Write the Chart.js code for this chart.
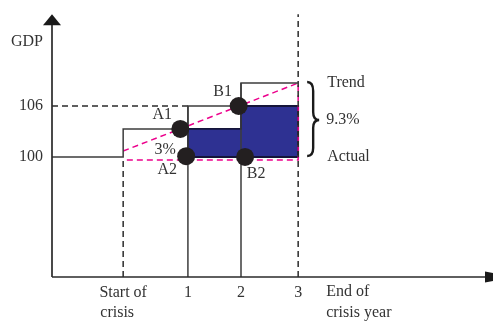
<!DOCTYPE html>
<html>
<head>
<meta charset="utf-8">
<script src="https://cdn.jsdelivr.net/npm/chart.js@4.4.1/dist/chart.umd.min.js"></script>
<style>
    html, body { margin: 0; padding: 0; background: #fff; }
    #wrap { width: 493px; height: 321px; }
</style>
</head>
<body>
<div id="wrap"><canvas id="crisis-chart"></canvas></div>
<script>
// years after the start of the crisis, as placed on the figure
const yearPos = [0, 1.11, 2.02, 3];
const yearLabels = [['Start of', 'crisis   '], '1', '2', '3'];
const endLabel = ['End of', 'crisis year'];

// GDP: pre-crisis / actual level and the trend level reached at each year
const actualGdp = 100;
const trendGdp = [103.3, 106, 108.7];
const gdpTicks = [100, 106];
const gdpTitle = 'GDP';

// the four marked points
const dotNames = ['A1', 'A2', 'B1', 'B2'];
const dotYears = [0.98, 1.08, 1.98, 2.09];
const dotGdp = [103.3, 100.1, 106, 100];

// pink dashed guides: trend line and actual line
const trendLineGdp = [100.7, 108.7];
const actualLineGdp = 99.65;

const gapLabels = ['3%', '9.3%'];
const sideLabels = ['Trend', 'Actual'];

// axis range
const xMin = -1.22, xMax = 6.34;
const yMin = 85.88, yMax = 118.47;
const yArrowTop = 116.8;

const ink = '#333333';
const lineInk = '#3d3d3d';
const pink = '#ec008c';
const navy = '#2e3192';
const font = "'Liberation Serif', 'DejaVu Serif', serif";

Chart.defaults.font.family = font;
Chart.defaults.font.size = 16;
Chart.defaults.color = ink;

function pts(xs, ys) {
    return xs.map((x, i) => ({ x: x, y: ys[i] }));
}

const gap = (x) => ({ x: x, y: null });

const stepData = [{ x: xMin, y: actualGdp }]
    .concat(pts(yearPos.slice(0, 3), trendGdp))
    .concat([{ x: yearPos[3], y: trendGdp[2] }]);

const yearLines = [
    { x: yearPos[1], y: yMin }, { x: yearPos[1], y: trendGdp[1] }, gap(yearPos[1]),
    { x: yearPos[2], y: yMin }, { x: yearPos[2], y: trendGdp[2] }
];

const blackDash = [
    { x: yearPos[0], y: yMin }, { x: yearPos[0], y: actualGdp }, gap(yearPos[0]),
    { x: yearPos[3], y: yMin }, { x: yearPos[3], y: yArrowTop }, gap(yearPos[3]),
    { x: xMin, y: gdpTicks[1] }, { x: yearPos[1], y: gdpTicks[1] }
];

const pinkDash = [
    { x: yearPos[0], y: trendLineGdp[0] }, { x: yearPos[3], y: trendLineGdp[1] },
    { x: yearPos[3], y: actualLineGdp }, { x: yearPos[0], y: actualLineGdp }
];

const lossArea = [
    { x: yearPos[1], y: actualGdp }, { x: yearPos[1], y: trendGdp[0] },
    { x: yearPos[2], y: trendGdp[0] }, { x: yearPos[2], y: trendGdp[1] },
    { x: yearPos[3], y: trendGdp[1] }, { x: yearPos[3], y: actualGdp },
    { x: yearPos[1], y: actualGdp }
];

const annotations = {
    id: 'annotations',
    afterDatasetsDraw(chart) {
        const ctx = chart.ctx;
        const x = chart.scales.x;
        const y = chart.scales.y;
        const area = chart.chartArea;
        const left = area.left, bottom = area.bottom;

        ctx.save();
        // axes with arrow heads
        ctx.strokeStyle = '#2b2b2b';
        ctx.fillStyle = '#1a1a1a';
        ctx.lineWidth = 1.7;
        const top = y.getPixelForValue(yArrowTop);
        ctx.beginPath();
        ctx.moveTo(left, bottom);
        ctx.lineTo(left, top + 8);
        ctx.moveTo(left, bottom);
        ctx.lineTo(area.right - 6, bottom);
        ctx.stroke();
        ctx.beginPath();
        ctx.moveTo(left, top);
        ctx.lineTo(left + 9, top + 11);
        ctx.lineTo(left - 9, top + 11);
        ctx.closePath();
        ctx.fill();
        ctx.beginPath();
        ctx.moveTo(area.right - 8, bottom - 5.5);
        ctx.lineTo(area.right + 22, bottom);
        ctx.lineTo(area.right - 8, bottom + 5.5);
        ctx.closePath();
        ctx.fill();

        ctx.fillStyle = ink;
        ctx.font = '16px ' + font;

        // y axis title
        ctx.textAlign = 'right';
        ctx.textBaseline = 'middle';
        ctx.fillText(gdpTitle, left - 9, 42);

        // point labels
        const offsets = [[-18, -14], [-19, 14], [-16, -14], [11, 17]];
        ctx.textAlign = 'center';
        dotNames.forEach((name, i) => {
            const px = x.getPixelForValue(dotYears[i]);
            const py = y.getPixelForValue(dotGdp[i]);
            ctx.fillText(name, px + offsets[i][0], py + offsets[i][1]);
        });
        ctx.fillText(gapLabels[0], x.getPixelForValue(dotYears[1]) - 21, y.getPixelForValue(dotGdp[1]) - 6);

        // brace and right labels
        const xe = x.getPixelForValue(yearPos[3]);
        const yt = y.getPixelForValue(trendGdp[2]);
        const ya = y.getPixelForValue(actualGdp);
        const ym = (yt + ya) / 2;
        const x0 = xe + 9, xm = xe + 15, tip = xe + 21;
        ctx.strokeStyle = '#1a1a1a';
        ctx.lineWidth = 2.4;
        ctx.beginPath();
        ctx.moveTo(x0, yt - 1);
        ctx.quadraticCurveTo(xm, yt - 1, xm, yt + 8);
        ctx.lineTo(xm, ym - 8);
        ctx.quadraticCurveTo(xm, ym, tip, ym);
        ctx.quadraticCurveTo(xm, ym, xm, ym + 8);
        ctx.lineTo(xm, ya - 9);
        ctx.quadraticCurveTo(xm, ya - 1, x0, ya - 1);
        ctx.stroke();

        ctx.textAlign = 'left';
        ctx.fillText(sideLabels[0], xe + 29, yt);
        ctx.fillText(gapLabels[1], xe + 28, ym);
        ctx.fillText(sideLabels[1], xe + 29, ya);

        // x axis title
        ctx.fillText(endLabel[0], xe + 28, bottom + 15);
        ctx.fillText(endLabel[1], xe + 28, bottom + 36);
        ctx.restore();
    }
};

let ctx = document.getElementById('crisis-chart').getContext('2d');

new Chart(ctx, {
    type: 'line',
    data: {
        datasets: [{
            label: 'points',
            data: pts(dotYears, dotGdp),
            showLine: false,
            pointRadius: 9,
            pointBackgroundColor: '#231f20',
            pointBorderWidth: 0
        }, {
            label: 'trend steps',
            data: stepData,
            stepped: 'before',
            borderColor: lineInk,
            borderWidth: 1.5,
            pointRadius: 0
        }, {
            label: 'year lines',
            data: yearLines,
            borderColor: lineInk,
            borderWidth: 1.5,
            pointRadius: 0
        }, {
            label: 'guides',
            data: blackDash,
            borderColor: '#2b2b2b',
            borderWidth: 1.5,
            borderDash: [6, 4],
            pointRadius: 0
        }, {
            label: 'pink guides',
            data: pinkDash,
            borderColor: pink,
            borderWidth: 1.5,
            borderDash: [6, 4],
            pointRadius: 0
        }, {
            label: 'lost output',
            data: lossArea,
            fill: 'shape',
            backgroundColor: navy,
            borderColor: '#15153a',
            borderWidth: 1.8,
            pointRadius: 0
        }]
    },
    options: {
        responsive: true,
        maintainAspectRatio: false,
        animation: false,
        layout: { padding: 0, autoPadding: false },
        plugins: {
            legend: { display: false },
            tooltip: { enabled: false }
        },
        scales: {
            x: {
                type: 'linear',
                min: xMin,
                max: xMax,
                grid: { display: false, drawTicks: false },
                border: { display: false },
                afterBuildTicks: function (scale) {
                    scale.ticks = yearPos.map(v => ({ value: v }));
                },
                afterFit: function (scale) {
                    scale.height = 44;
                    scale.paddingLeft = 0;
                    scale.paddingRight = 0;
                },
                ticks: {
                    padding: 5,
                    maxRotation: 0,
                    autoSkip: false,
                    font: { lineHeight: 1.3 },
                    callback: function (value, index) {
                        return yearLabels[index];
                    }
                }
            },
            y: {
                min: yMin,
                max: yMax,
                grid: { display: false, drawTicks: false },
                border: { display: false },
                afterBuildTicks: function (scale) {
                    scale.ticks = gdpTicks.map(v => ({ value: v }));
                },
                afterFit: function (scale) {
                    scale.width = 52;
                    scale.paddingTop = 0;
                    scale.paddingBottom = 0;
                },
                ticks: {
                    padding: 9,
                    callback: function (value) {
                        return String(value);
                    }
                }
            }
        }
    },
    plugins: [annotations]
});
</script>
</body>
</html>
